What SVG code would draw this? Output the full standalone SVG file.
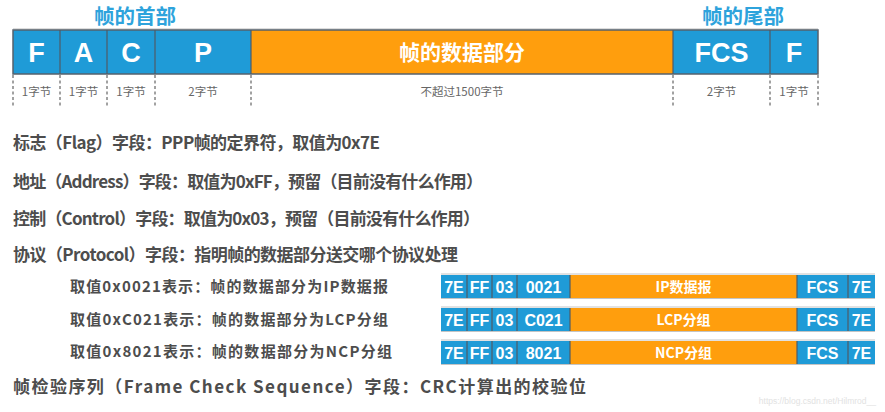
<svg xmlns="http://www.w3.org/2000/svg" width="885" height="412" viewBox="0 0 885 412">
<style>
.blue{fill:#1f9bd7}
.org{fill:#ff9e0d}
.div{stroke:#4f5b66;stroke-width:1.2;fill:none}
.frame{fill:none;stroke:#56616c;stroke-width:1.5}
.dash{stroke:#444;stroke-width:1;stroke-dasharray:3 2.5}
.big{font-family:"Liberation Sans",Arial,sans-serif;font-weight:bold;font-size:27px;fill:#fff;text-anchor:middle}
.cjkw{font-family:"Noto Sans CJK SC",sans-serif;font-weight:bold;fill:#fff;text-anchor:middle}
.title{font-family:"Noto Sans CJK SC",sans-serif;font-weight:bold;font-size:20.5px;fill:#2ea3dc;text-anchor:middle}
.lbl{font-family:"Noto Sans CJK SC",sans-serif;font-size:11.5px;fill:#666;text-anchor:middle}
.txt{font-family:"Noto Sans CJK SC",sans-serif;font-weight:bold;font-size:17px;fill:#4d4d4d}
.sub{font-family:"Noto Sans CJK SC",sans-serif;font-weight:bold;font-size:15px;fill:#4d4d4d}
.sm{font-family:"Liberation Sans",Arial,sans-serif;font-weight:bold;font-size:16px;fill:#fff;text-anchor:middle}
.smc{font-family:"Noto Sans CJK SC",sans-serif;font-weight:bold;font-size:14px;fill:#fff;text-anchor:middle}
.wm{font-family:"Liberation Sans",Arial,sans-serif;font-size:8.5px;fill:#e2e2e2;text-anchor:end}
</style>

<g id="titles">
<text class="title" x="135" y="24">帧的首部</text>
<text class="title" x="743" y="24">帧的尾部</text>
</g>

<g id="frame">
<line x1="13" y1="29" x2="818" y2="29" stroke="#bbb" stroke-width="1"/>
<rect class="blue" x="13" y="30" width="238" height="44"/>
<rect class="org" x="251" y="30" width="422" height="44"/>
<rect class="blue" x="673" y="30" width="145" height="44"/>
<rect class="frame" x="13" y="30" width="805" height="44"/>
<g class="div">
<line x1="60" y1="30" x2="60" y2="74"/>
<line x1="107" y1="30" x2="107" y2="74"/>
<line x1="155" y1="30" x2="155" y2="74"/>
<line x1="251" y1="30" x2="251" y2="74"/>
<line x1="673" y1="30" x2="673" y2="74"/>
<line x1="770" y1="30" x2="770" y2="74"/>
</g>
<text class="big" x="36.5" y="62">F</text>
<text class="big" x="83.5" y="62">A</text>
<text class="big" x="131" y="62">C</text>
<text class="big" x="203" y="62">P</text>
<text class="cjkw" x="462" y="60" font-size="21">帧的数据部分</text>
<text class="big" x="721.5" y="62">FCS</text>
<text class="big" x="794" y="62">F</text>
</g>

<g id="sizes">
<g class="dash">
<line x1="13" y1="75" x2="13" y2="108"/>
<line x1="60" y1="75" x2="60" y2="108"/>
<line x1="107" y1="75" x2="107" y2="108"/>
<line x1="155" y1="75" x2="155" y2="108"/>
<line x1="251" y1="75" x2="251" y2="108"/>
<line x1="673" y1="75" x2="673" y2="108"/>
<line x1="770" y1="75" x2="770" y2="108"/>
<line x1="818" y1="75" x2="818" y2="108"/>
</g>
<text class="lbl" x="36.5" y="96">1字节</text>
<text class="lbl" x="83.5" y="96">1字节</text>
<text class="lbl" x="131" y="96">1字节</text>
<text class="lbl" x="203" y="96">2字节</text>
<text class="lbl" x="462" y="96">不超过1500字节</text>
<text class="lbl" x="721.5" y="96">2字节</text>
<text class="lbl" x="794" y="96">1字节</text>
</g>

<g id="desc">
<text class="txt" x="13" y="149" textLength="367" lengthAdjust="spacing">标志（Flag）字段：PPP帧的定界符，取值为0x7E</text>
<text class="txt" x="13" y="188" textLength="470" lengthAdjust="spacing">地址（Address）字段：取值为0xFF，预留（目前没有什么作用）</text>
<text class="txt" x="13" y="225" textLength="467" lengthAdjust="spacing">控制（Control）字段：取值为0x03，预留（目前没有什么作用）</text>
<text class="txt" x="13" y="261" textLength="445" lengthAdjust="spacing">协议（Protocol）字段：指明帧的数据部分送交哪个协议处理</text>
<text class="sub" x="70" y="292" textLength="318" lengthAdjust="spacing">取值0x0021表示：帧的数据部分为IP数据报</text>
<text class="sub" x="70" y="325" textLength="318" lengthAdjust="spacing">取值0xC021表示：帧的数据部分为LCP分组</text>
<text class="sub" x="70" y="357" textLength="322" lengthAdjust="spacing">取值0x8021表示：帧的数据部分为NCP分组</text>
<text class="txt" x="13" y="393" font-size="18.5" textLength="573" lengthAdjust="spacing">帧检验序列（Frame Check Sequence）字段：CRC计算出的校验位</text>
</g>

<defs>
<g id="row">
<line x1="441" y1="-1" x2="875" y2="-1" stroke="#c4c4c4" stroke-width="1"/>
<rect class="blue" x="441" y="0" width="129" height="23"/>
<rect class="org" x="570" y="0" width="227" height="23"/>
<rect class="blue" x="797" y="0" width="78" height="23"/>
<line x1="441" y1="23.5" x2="875" y2="23.5" stroke="#c4c4c4" stroke-width="1"/>
<g class="div">
<line x1="467" y1="0" x2="467" y2="23"/>
<line x1="492" y1="0" x2="492" y2="23"/>
<line x1="517" y1="0" x2="517" y2="23"/>
<line x1="570" y1="0" x2="570" y2="23"/>
<line x1="797" y1="0" x2="797" y2="23"/>
<line x1="848" y1="0" x2="848" y2="23"/>
</g>
<text class="sm" x="454" y="17.5">7E</text>
<text class="sm" x="479.5" y="17.5">FF</text>
<text class="sm" x="504.5" y="17.5">03</text>
<text class="sm" x="822.5" y="17.5">FCS</text>
<text class="sm" x="861.5" y="17.5">7E</text>
</g>
</defs>

<g id="ip-frame" transform="translate(0,275)">
<use href="#row"/>
<text class="sm" x="543.5" y="17.5">0021</text>
<text class="smc" x="683.5" y="17">IP数据报</text>
</g>
<g id="lcp-frame" transform="translate(0,308)">
<use href="#row"/>
<text class="sm" x="543.5" y="17.5">C021</text>
<text class="smc" x="683.5" y="17">LCP分组</text>
</g>
<g id="ncp-frame" transform="translate(0,341)">
<use href="#row"/>
<text class="sm" x="543.5" y="17.5">8021</text>
<text class="smc" x="683.5" y="17">NCP分组</text>
</g>

<text class="wm" x="876" y="404">https://blog.csdn.net/Hilmrod__</text>
</svg>
